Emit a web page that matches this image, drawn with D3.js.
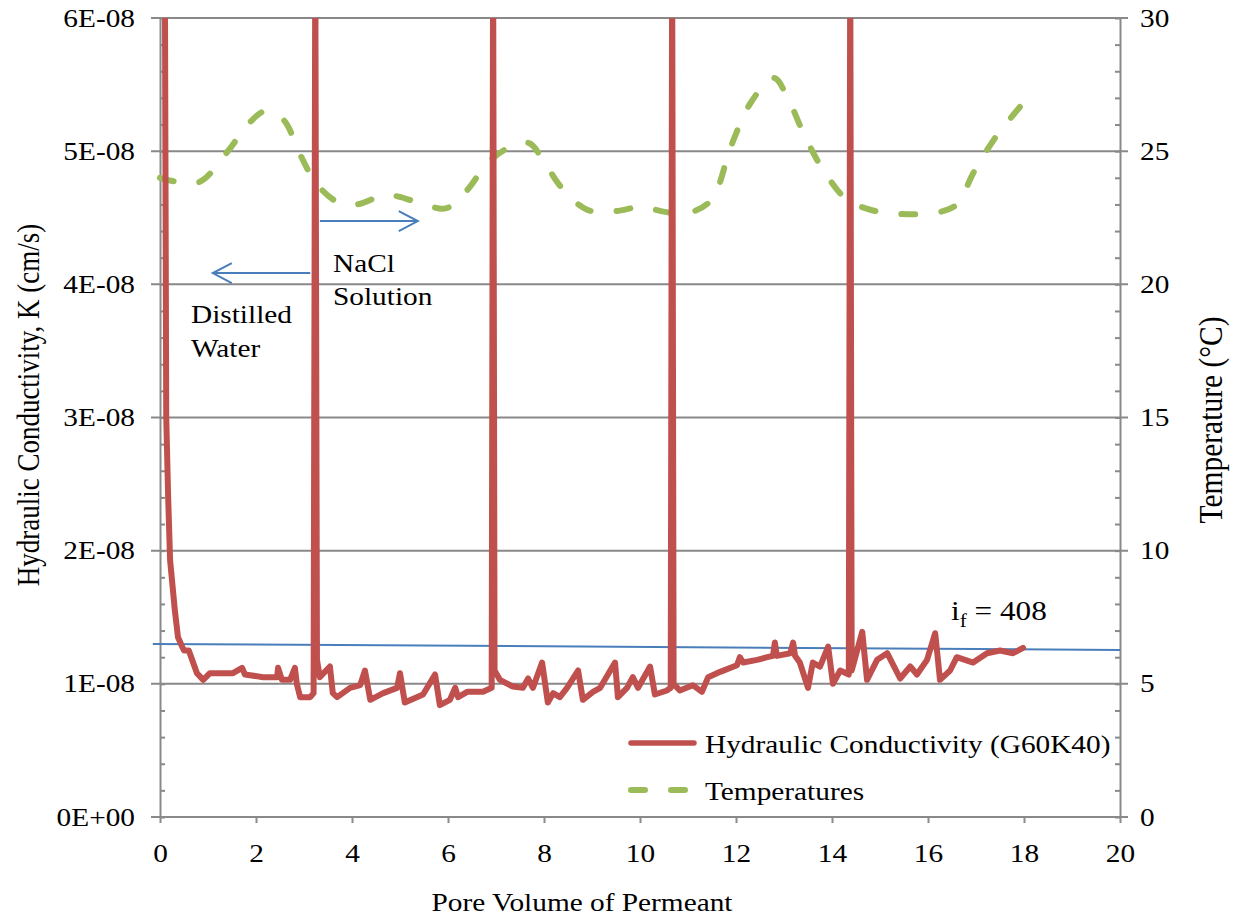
<!DOCTYPE html>
<html>
<head>
<meta charset="utf-8">
<script src="https://cdn.jsdelivr.net/npm/d3@7"></script>
<style>
  body { margin: 0; background: #fff; }
  text { font-family: "Liberation Serif", "Times New Roman", serif; fill: #000; }
</style>
</head>
<body>
<svg id="chart" width="1238" height="919"></svg>
<script>
// Hydraulic conductivity record (pore volumes of permeant vs K in cm/s)
const poreVolume = [0.10, 0.13, 0.17, 0.21, 0.31, 0.375, 0.46, 0.50, 0.60, 0.67, 0.77, 0.90, 1.04, 1.52, 1.71, 1.77,
  2.15, 2.44, 2.46, 2.54, 2.71, 2.81, 2.85, 2.92, 3.13, 3.20, 3.235, 3.27, 3.33, 3.54, 3.60, 3.69, 3.96, 4.17, 4.27,
  4.38, 4.65, 4.94, 5.00, 5.10, 5.35, 5.48, 5.73, 5.83, 6.04, 6.15, 6.21, 6.40, 6.73, 6.91, 6.94, 6.97, 7.08, 7.35,
  7.56, 7.67, 7.77, 7.96, 8.08, 8.19, 8.33, 8.48, 8.71, 8.81, 9.02, 9.17, 9.48, 9.54, 9.73, 9.85, 9.96, 10.21, 10.31,
  10.56, 10.64, 10.67, 10.70, 10.83, 11.10, 11.29, 11.42, 11.67, 12.02, 12.08, 12.15, 12.44, 12.65, 12.77, 12.81,
  12.85, 13.13, 13.19, 13.23, 13.33, 13.50, 13.60, 13.75, 13.92, 14.02, 14.17, 14.35, 14.38, 14.41, 14.63, 14.73,
  14.94, 15.15, 15.42, 15.63, 15.77, 15.98, 16.15, 16.25, 16.46, 16.60, 16.94, 17.23, 17.50, 17.77, 17.98];
const conductivity = [6.5e-8, 3.0e-8, 2.4e-8, 1.93e-8, 1.55e-8, 1.35e-8, 1.28e-8, 1.25e-8, 1.25e-8, 1.18e-8, 1.08e-8,
  1.03e-8, 1.08e-8, 1.08e-8, 1.12e-8, 1.07e-8, 1.05e-8, 1.05e-8, 1.12e-8, 1.03e-8, 1.03e-8, 1.12e-8, 1.00e-8, 0.90e-8,
  0.90e-8, 0.93e-8, 6.5e-8, 1.18e-8, 1.05e-8, 1.13e-8, 0.93e-8, 0.90e-8, 0.97e-8, 0.99e-8, 1.10e-8, 0.88e-8, 0.93e-8,
  0.97e-8, 1.08e-8, 0.86e-8, 0.90e-8, 0.92e-8, 1.07e-8, 0.84e-8, 0.88e-8, 0.97e-8, 0.90e-8, 0.94e-8, 0.94e-8, 0.97e-8,
  6.5e-8, 1.10e-8, 1.03e-8, 0.98e-8, 0.97e-8, 1.04e-8, 0.97e-8, 1.16e-8, 0.86e-8, 0.93e-8, 0.90e-8, 0.97e-8, 1.10e-8,
  0.88e-8, 0.94e-8, 0.97e-8, 1.16e-8, 0.90e-8, 0.97e-8, 1.05e-8, 0.97e-8, 1.13e-8, 0.92e-8, 0.95e-8, 0.97e-8, 6.5e-8,
  1.00e-8, 0.95e-8, 0.99e-8, 0.94e-8, 1.05e-8, 1.09e-8, 1.14e-8, 1.20e-8, 1.16e-8, 1.18e-8, 1.20e-8, 1.21e-8, 1.31e-8,
  1.21e-8, 1.23e-8, 1.31e-8, 1.21e-8, 1.16e-8, 0.97e-8, 1.16e-8, 1.13e-8, 1.28e-8, 1.00e-8, 1.10e-8, 1.07e-8, 6.5e-8,
  1.10e-8, 1.39e-8, 1.03e-8, 1.18e-8, 1.23e-8, 1.04e-8, 1.13e-8, 1.07e-8, 1.18e-8, 1.38e-8, 1.03e-8, 1.10e-8, 1.20e-8,
  1.16e-8, 1.23e-8, 1.25e-8, 1.23e-8, 1.27e-8];

// Laboratory temperature during permeation (°C)
const tempPoreVolume = [0, 0.35, 0.83, 1.40, 1.88, 2.19, 2.56, 2.94, 3.25, 3.69, 4.10, 4.71, 5.35, 5.95, 6.38, 6.85,
  7.29, 7.69, 8.00, 8.38, 8.90, 9.50, 10.00, 10.60, 11.08, 11.50, 11.90, 12.30, 12.79, 13.10, 13.45, 13.85, 14.30,
  14.80, 15.45, 16.20, 16.60, 16.95, 17.40, 17.98];
const temperature = [24.0, 23.85, 23.85, 24.97, 26.1, 26.5, 26.2, 24.8, 23.8, 23.1, 23.0, 23.35, 23.1, 22.85, 23.5,
  24.6, 25.15, 25.3, 24.6, 23.6, 22.8, 22.75, 22.9, 22.7, 22.72, 23.2, 25.2, 26.8, 27.75, 26.9, 25.5, 24.2, 23.2,
  22.8, 22.64, 22.7, 23.0, 24.2, 25.5, 26.8];

// Reference conductivity at the final hydraulic gradient i_f = 408
const refPoreVolume = [-0.15, 20];
const refConductivity = [1.30e-8, 1.255e-8];

// Axis ticks
const kTicks = [0, 1e-8, 2e-8, 3e-8, 4e-8, 5e-8, 6e-8];
const kTickLabels = ["0E+00", "1E-08", "2E-08", "3E-08", "4E-08", "5E-08", "6E-08"];
const tempTicks = [0, 5, 10, 15, 20, 25, 30];
const pvTicks = [0, 2, 4, 6, 8, 10, 12, 14, 16, 18, 20];

const SX = 1.15;          // horizontal glyph stretch of the exported figure
const FS = 25.5;          // base font size
const GRID = "#898989";
const RED = "#c0504d", GREEN = "#9bbb59", BLUE = "#4a7ebb";

const svg = d3.select("#chart");
const x = d3.scaleLinear().domain([0, 20]).range([160, 1120]);
const yK = d3.scaleLinear().domain([0, 6e-8]).range([817, 18]);
const yT = d3.scaleLinear().domain([0, 30]).range([817, 18]);

// Clip region: series stop at the top of the plot
svg.append("defs").append("clipPath").attr("id", "plotClip")
  .append("rect").attr("x", 0).attr("y", yK(6e-8)).attr("width", 1238).attr("height", 919 - yK(6e-8));

// Horizontal gridlines (extend slightly left/right as major ticks)
svg.append("g").selectAll("line").data(kTicks).join("line")
  .attr("x1", x(0) - 9).attr("x2", x(20) + 8)
  .attr("y1", d => yK(d)).attr("y2", d => yK(d))
  .attr("stroke", GRID).attr("stroke-width", 2);

function styleAxis(g) {
  g.selectAll("path.domain").attr("stroke", GRID).attr("stroke-width", 2);
  g.selectAll(".tick line").attr("stroke", GRID).attr("stroke-width", 2);
}

// Left axis: line with inward minor ticks
const kMinor = d3.range(0, 31).map(i => i * 0.2e-8);
svg.append("g").attr("transform", `translate(${x(0)},0)`)
  .call(d3.axisLeft(yK).tickValues(kMinor).tickSize(-5).tickSizeOuter(0).tickFormat(""))
  .call(styleAxis);

// Left tick labels
svg.append("g").attr("transform", `translate(${x(0)},0)`)
  .call(d3.axisLeft(yK).tickValues(kTicks).tickSize(0).tickPadding(0).tickFormat((d, i) => kTickLabels[i]))
  .call(g => g.select(".domain").remove())
  .call(g => g.selectAll("text")
    .attr("x", 0).attr("dy", "0.32em")
    .attr("transform", `translate(-25,0) scale(${SX},1)`)
    .style("font-size", FS + "px").attr("font-family", null).attr("fill", "#000"));

// Right axis: line with inward minor ticks
svg.append("g").attr("transform", `translate(${x(20)},0)`)
  .call(d3.axisRight(yT).tickValues(d3.range(0, 31)).tickSize(-5).tickSizeOuter(0).tickFormat(""))
  .call(styleAxis);

// Right tick labels
svg.append("g").attr("transform", `translate(${x(20)},0)`)
  .call(d3.axisRight(yT).tickValues(tempTicks).tickSize(0).tickPadding(0))
  .call(g => g.select(".domain").remove())
  .call(g => g.selectAll("text")
    .attr("x", 0).attr("dy", "0.32em")
    .attr("transform", `translate(20,0) scale(${SX},1)`)
    .style("font-size", FS + "px").attr("font-family", null).attr("fill", "#000"));

// Bottom axis ticks and labels
svg.append("g").attr("transform", `translate(0,${yK(0)})`)
  .call(d3.axisBottom(x).tickValues(pvTicks).tickSize(6).tickSizeOuter(0))
  .call(g => g.select(".domain").remove())
  .call(styleAxis)
  .call(g => g.selectAll("text")
    .attr("y", 0).attr("dy", 0)
    .attr("transform", `translate(0,45) scale(${SX},1)`)
    .style("font-size", FS + "px").attr("font-family", null).attr("fill", "#000"));

// Series
const plot = svg.append("g").attr("clip-path", "url(#plotClip)");

const refLine = d3.line().x(d => x(d[0])).y(d => yK(d[1]));
plot.append("path")
  .datum(refPoreVolume.map((v, i) => [v, refConductivity[i]]))
  .attr("d", refLine).attr("fill", "none").attr("stroke", BLUE).attr("stroke-width", 2);

const tempLine = d3.line().x(d => x(d[0])).y(d => yT(d[1])).curve(d3.curveCatmullRom.alpha(0.5));
plot.append("path")
  .datum(tempPoreVolume.map((v, i) => [v, temperature[i]]))
  .attr("d", tempLine).attr("fill", "none").attr("stroke", GREEN).attr("stroke-width", 6)
  .attr("stroke-linecap", "round").attr("stroke-dasharray", "14,26");

const kLine = d3.line().x(d => x(d[0])).y(d => yK(d[1]));
plot.append("path")
  .datum(poreVolume.map((v, i) => [v, conductivity[i]]))
  .attr("d", kLine).attr("fill", "none").attr("stroke", RED).attr("stroke-width", 6)
  .attr("stroke-linejoin", "round").attr("stroke-linecap", "round");

// Text helper with stretched glyphs
function label(px, py, str, size, anchor) {
  return svg.append("text")
    .attr("transform", `translate(${px},${py}) scale(${SX},1)`)
    .attr("text-anchor", anchor || "start")
    .style("font-size", (size || FS) + "px")
    .text(str);
}

// Flow direction arrows
function arrow(x1, x2, k) {
  const y0 = yK(k), xa = x(x1), xb = x(x2);
  const dir = Math.sign(xb - xa);
  const g = svg.append("g").attr("stroke", BLUE).attr("stroke-width", 2).attr("fill", "none");
  g.append("line").attr("x1", xa).attr("x2", xb).attr("y1", y0).attr("y2", y0);
  g.append("path").attr("d", `M${xb - dir * 19},${y0 - 10} L${xb},${y0} L${xb - dir * 19},${y0 + 10}`)
    .attr("stroke-linejoin", "miter");
}
arrow(3.33, 5.37, 4.475e-8);
arrow(3.13, 1.10, 4.085e-8);

label(333, 272, "NaCl");
label(333, 305, "Solution");
label(191, 323, "Distilled");
label(191, 357, "Water");

// Gradient annotation
const ifText = svg.append("text")
  .attr("transform", `translate(951,620) scale(${SX * 0.97},1)`)
  .style("font-size", "28px");
ifText.append("tspan").text("i");
ifText.append("tspan").attr("dy", 7).style("font-size", "19px").text("f");
ifText.append("tspan").attr("dy", -7).text(" = 408");

// Axis titles
label(582, 911, "Pore Volume of Permeant", FS, "middle");
svg.append("text")
  .attr("transform", `translate(39,405) rotate(-90) scale(1,${SX})`)
  .attr("text-anchor", "middle").style("font-size", "27px")
  .text("Hydraulic Conductivity, K (cm/s)");
svg.append("text")
  .attr("transform", `translate(1222,420) rotate(-90) scale(1,${SX})`)
  .attr("text-anchor", "middle").style("font-size", "29.5px")
  .text("Temperature (°C)");

// Legend
const legend = svg.append("g");
legend.append("line").attr("x1", 631).attr("x2", 694).attr("y1", 743).attr("y2", 743)
  .attr("stroke", RED).attr("stroke-width", 5.5).attr("stroke-linecap", "round");
legend.append("line").attr("x1", 631).attr("x2", 685).attr("y1", 790).attr("y2", 790)
  .attr("stroke", GREEN).attr("stroke-width", 6).attr("stroke-linecap", "round")
  .attr("stroke-dasharray", "14,26");
label(705, 753, "Hydraulic Conductivity (G60K40)");
label(705, 800, "Temperatures");
</script>
</body>
</html>
